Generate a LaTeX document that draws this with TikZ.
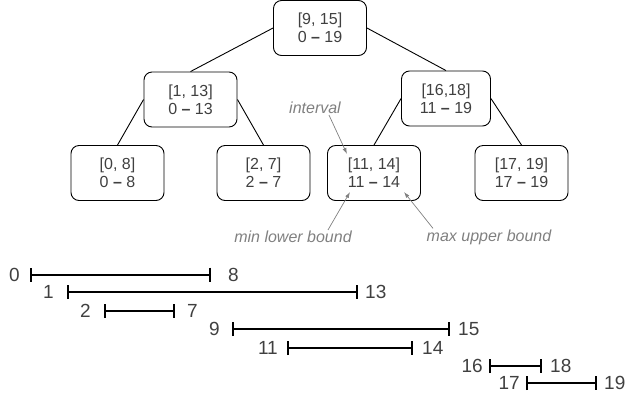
\documentclass[tikz,border=0pt]{standalone}
\usepackage{fontspec}
\setmainfont{Liberation Sans}
\usetikzlibrary{positioning,arrows.meta}

\begin{document}
\begin{tikzpicture}[
	x=1pt, y=-1pt,
	box/.style={draw, rounded corners=8pt, line width=0.9pt, minimum width=93pt, minimum height=55pt, align=center, text=black!75, font=\fontsize{16}{18}\selectfont},
	edge/.style={line width=0.9pt},
	note/.style={text=black!50, font=\fontsize{16}{18}\selectfont\itshape, inner sep=1pt},
	pointer/.style={draw=black!50, line width=0.7pt, -{Latex[length=6pt,width=4pt]}},
	span/.style={line width=2pt, {Bar[width=14pt,line width=2pt]}-{Bar[width=14pt,line width=2pt]}},
	num/.style={text=black!75, font=\fontsize{19}{20}\selectfont, inner sep=0pt}]
	\useasboundingbox (0,0) rectangle (626,400);
	% tree
	\node[box] (root) at (320,28) {[9, 15]\\0 \textbf{--} 19};
	\node[box] (kidL) at (190.5,99.5) {[1, 13]\\0 \textbf{--} 13};
	\node[box, minimum width=89pt] (kidR) at (446,98.5) {[16,18]\\11 \textbf{--} 19};
	\node[box] (leafA) at (117.5,173) {[0, 8]\\0 \textbf{--} 8};
	\node[box] (leafB) at (263.5,173) {[2, 7]\\2 \textbf{--} 7};
	\node[box] (leafC) at (374,173) {[11, 14]\\11 \textbf{--} 14};
	\node[box] (leafD) at (521.5,173) {[17, 19]\\17 \textbf{--} 19};
	\draw[edge] (root.west) -- (kidL.north);
	\draw[edge] (root.east) -- (kidR.north);
	\draw[edge] (kidL.west) -- (leafA.north);
	\draw[edge] (kidL.east) -- (leafB.north);
	\draw[edge] (kidR.west) -- (leafC.north);
	\draw[edge] (kidR.east) -- (leafD.north);
	% notes
	\node[note] (intv) at (315,108) {interval};
	\node[note] (minlb) at (293,237) {min lower bound};
	\node[note] (maxub) at (489,237) {max upper bound};
	\coordinate (ivhead) at (347,154);
	\coordinate (lohead) at (350,192);
	\coordinate (hihead) at (404,192);
	\draw[pointer] ([xshift=14pt]intv.south) -- (ivhead);
	\draw[pointer] ([xshift=35pt]minlb.north) -- (lohead);
	\draw[pointer] ([xshift=-56pt]maxub.north) -- (hihead);
	% intervals
	\coordinate (a0) at (30,274.5);  \coordinate (b0) at (211,274.5);
	\coordinate (a1) at (67,292);    \coordinate (b1) at (358,292);
	\coordinate (a2) at (104,311);   \coordinate (b2) at (175,311);
	\coordinate (a3) at (232,329);   \coordinate (b3) at (450,329);
	\coordinate (a4) at (287,348);   \coordinate (b4) at (413,348);
	\coordinate (a5) at (489,366);   \coordinate (b5) at (542,366);
	\coordinate (a6) at (526,383);   \coordinate (b6) at (597,383);
	\draw[span] (a0) -- (b0);
	\draw[span] (a1) -- (b1);
	\draw[span] (a2) -- (b2);
	\draw[span] (a3) -- (b3);
	\draw[span] (a4) -- (b4);
	\draw[span] (a5) -- (b5);
	\draw[span] (a6) -- (b6);
	\node[num, left=10pt of a0] (lo0) {0};   \node[num, right=17pt of b0] (hi0) {8};
	\node[num, left=13pt of a1] (lo1) {1};   \node[num, right=7pt of b1] (hi1) {13};
	\node[num, left=13pt of a2] (lo2) {2};   \node[num, right=12pt of b2] (hi2) {7};
	\node[num, left=12pt of a3] (lo3) {9};   \node[num, right=8pt of b3] (hi3) {15};
	\node[num, left=9pt of a4] (lo4) {11};   \node[num, right=9pt of b4] (hi4) {14};
	\node[num, left=6pt of a5] (lo5) {16};   \node[num, right=8pt of b5] (hi5) {18};
	\node[num, left=6pt of a6] (lo6) {17};   \node[num, right=7pt of b6] (hi6) {19};
\end{tikzpicture}
\end{document}
